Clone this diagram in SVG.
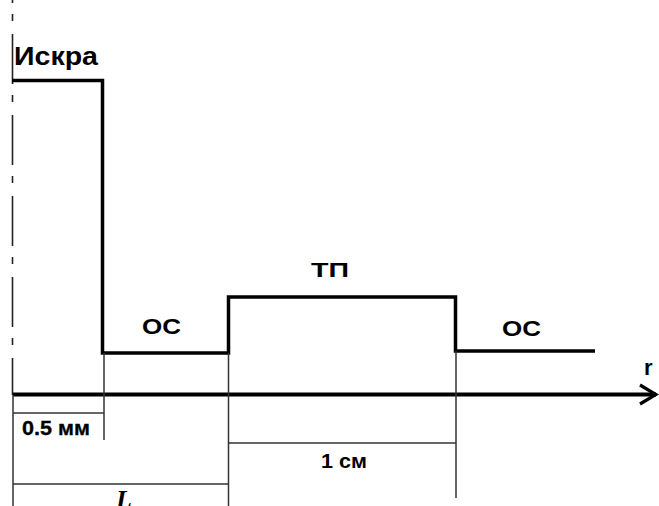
<svg xmlns="http://www.w3.org/2000/svg" width="659" height="506" viewBox="0 0 659 506">
<style>
.prof{fill:none;stroke:#000;stroke-width:3.5;stroke-linejoin:miter}
.dim{fill:none;stroke:#333;stroke-width:1.5}
.lbl{font-family:"Liberation Sans",Arial,sans-serif;font-weight:bold;fill:#000}
</style>
<rect width="659" height="506" fill="#fff"/>
<g id="connectors">
<line id="symmetry-axis" x1="12.5" y1="0" x2="12.5" y2="395" stroke="#222" stroke-width="1.6" stroke-dasharray="50 11 7 13" stroke-dashoffset="47"/>
<polyline id="profile" class="prof" points="12,80.5 102.5,80.5 102.5,353 228.5,353 228.5,297 455.5,297 455.5,351 595,351"/>
<line id="r-axis" x1="13" y1="394.5" x2="656" y2="394.5" stroke="#000" stroke-width="4"/>
<polyline id="r-arrow" points="640,385 656,394.5 640,404" fill="none" stroke="#000" stroke-width="3.2"/>
<line class="dim" x1="13" y1="395" x2="13" y2="506"/>
<line class="dim" x1="104" y1="353" x2="104" y2="440"/>
<line class="dim" x1="13" y1="413" x2="104" y2="413"/>
<line class="dim" x1="13" y1="484" x2="228.5" y2="484"/>
<line class="dim" x1="228.5" y1="353" x2="228.5" y2="506"/>
<line class="dim" x1="456" y1="351" x2="456" y2="498"/>
<line class="dim" x1="228.5" y1="443" x2="456" y2="443"/>
</g>
<g id="label-iskra"><text class="lbl" x="14" y="65" font-size="25" textLength="84" lengthAdjust="spacingAndGlyphs">Искра</text></g>
<g id="label-os1"><text class="lbl" x="142" y="334" font-size="22" textLength="39" lengthAdjust="spacingAndGlyphs">ОС</text></g>
<g id="label-tp"><text class="lbl" x="311" y="277" font-size="21" textLength="38" lengthAdjust="spacingAndGlyphs">ТП</text></g>
<g id="label-os2"><text class="lbl" x="502" y="336" font-size="22" textLength="39" lengthAdjust="spacingAndGlyphs">ОС</text></g>
<g id="label-r"><text class="lbl" x="644" y="375" font-size="22">r</text></g>
<g id="label-05mm"><text x="22" y="435" font-family="'Liberation Sans',Arial,sans-serif" font-size="20" font-weight="600" textLength="68" lengthAdjust="spacingAndGlyphs" fill="#000" stroke="#000" stroke-width="0.3">0.5 мм</text></g>
<g id="label-1cm"><text class="lbl" x="321" y="468" font-size="20" textLength="46" lengthAdjust="spacingAndGlyphs">1 см</text></g>
<g id="label-L"><text x="116" y="508" font-family="'Liberation Serif','Times New Roman',serif" font-style="italic" font-weight="bold" font-size="26" fill="#000">L</text></g>
</svg>
